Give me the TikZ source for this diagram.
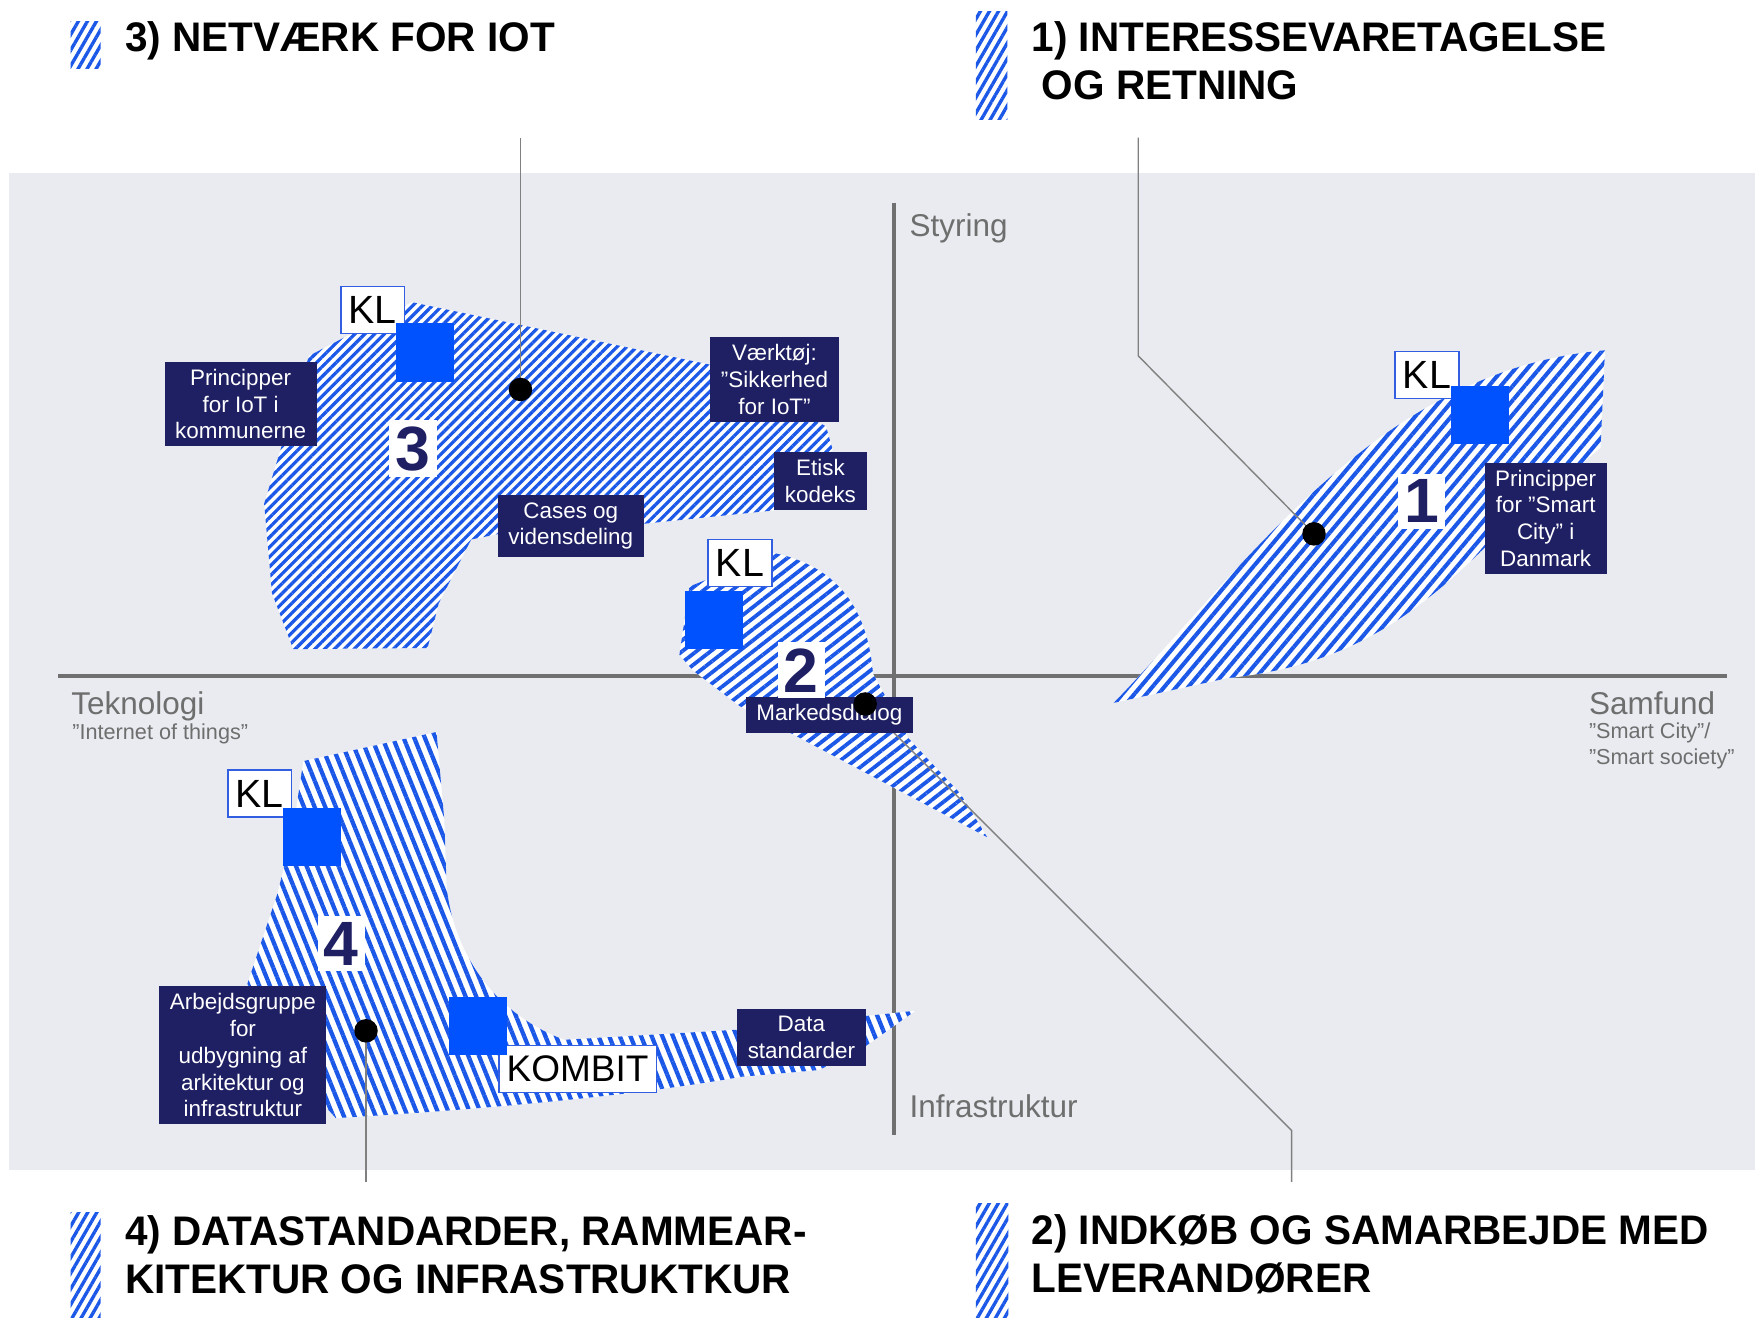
\documentclass[tikz,border=0pt]{standalone}
\usepackage{fontspec}
\setmainfont{Liberation Sans}
\newfontfamily\headfont[FakeStretch=0.98]{Liberation Sans}
\usetikzlibrary{patterns.meta}
\definecolor{navy}{RGB}{31,31,99}
\definecolor{hatchblue}{RGB}{28,88,232}
\definecolor{sqblue}{RGB}{0,82,255}
\definecolor{panel}{RGB}{233,235,240}
\definecolor{axisgray}{RGB}{112,112,112}
\definecolor{labelgray}{RGB}{110,110,110}
\definecolor{leadgray}{RGB}{128,128,128}
\definecolor{klborder}{RGB}{50,95,225}
\begin{document}
\begin{tikzpicture}[x={(0.01cm,0)}, y={(0,-0.01cm)},
  navybox/.style={fill=navy, text=white, align=center, inner xsep=0.095cm, inner ysep=0.065cm, font=\fontsize{5.7}{6.8}\selectfont},
  orgbox/.style={draw=klborder, line width=0.4pt, fill=white, inner xsep=0.07cm, inner ysep=0pt, minimum height=0.42cm, font=\fontsize{10}{12}\selectfont},
  bluesq/.style={fill=sqblue, minimum size=0.52cm, inner sep=0pt},
  blackdot/.style={circle, fill=black, minimum size=0.21cm, inner sep=0pt},
  numbox/.style={fill=white, text=navy, inner sep=0.055cm, font=\fontsize{15.9}{18}\selectfont\bfseries},
  axislabel/.style={text=labelgray, anchor=base west, inner sep=0pt, font=\fontsize{8}{9}\selectfont},
  sublabel/.style={text=labelgray, anchor=base west, inner sep=0pt, align=left, font=\fontsize{5.5}{6.5}\selectfont},
  headline/.style={anchor=base west, inner sep=0pt, align=left, font=\headfont\bfseries\fontsize{10.5}{12.2}\selectfont},
  leader/.style={leadgray, line width=0.35pt},
  zone/.style={preaction={fill=white}, pattern color=hatchblue},
  axis/.style={axisgray, line width=1pt}
]
\useasboundingbox (0,0) rectangle (1568,1177);
\fill[white] (0,0) rectangle (1568,1177);
\fill[panel] (8,155) rectangle (1568,1045);

\coordinate (axw) at (52,604);
\coordinate (axe) at (1543,604);
\coordinate (axn) at (799,181);
\coordinate (axs) at (799,1014);
\draw[axis] (axw) -- (axe);
\draw[axis] (axn) -- (axs);

\path[zone, pattern={Lines[angle=45,distance=0.062cm,line width=0.029cm]}]
  (276,318) -- (368,270) -- (640,327) -- (738,381) -- (744,402) -- (692,456) -- (575,468)
  -- (446,477) -- (421,482) -- (392,539) -- (382,579) -- (262,580) -- (243,530) -- (236,450) -- cycle;
\path[zone, pattern={Lines[angle=50,distance=0.082cm,line width=0.036cm]}]
  (995,628) .. controls (1110,510) and (1230,330) .. (1434,313) -- (1430,400) -- (1330,486)
  .. controls (1260,555) and (1200,595) .. (1096,606) -- cycle;
\path[zone, pattern={Lines[angle=38,distance=0.078cm,line width=0.034cm]}]
  (616,524) -- (691,494) .. controls (745,505) and (775,540) .. (780,602) -- (812,660) -- (858,709)
  -- (882,748) -- (661,631) -- (619,599) -- (607,585) -- cycle;
\path[zone, pattern={Lines[angle=112,distance=0.088cm,line width=0.038cm]}]
  (271,680) -- (390,654) -- (397,733) -- (399,792) .. controls (405,850) and (440,905) .. (504,929)
  -- (659,920) -- (818,903) -- (773,935) -- (732,956) -- (663,962)
  .. controls (560,980) and (420,992) .. (300,999) -- (265,960) -- (221,879) -- (248,798) -- (262,740) -- cycle;

\path[zone, pattern={Lines[angle=60,distance=0.07cm,line width=0.03cm]}] (63,19) rectangle (90,61);
\path[zone, pattern={Lines[angle=60,distance=0.07cm,line width=0.03cm]}] (872,10) rectangle (900,107);
\path[zone, pattern={Lines[angle=60,distance=0.07cm,line width=0.03cm]}] (63,1083) rectangle (90,1177);
\path[zone, pattern={Lines[angle=60,distance=0.07cm,line width=0.03cm]}] (872,1075) rectangle (901,1177);

\node[headline] (t3) at (111,46) {3) NETVÆRK FOR IOT};
\node[headline] (t1) at (921,89) {1) INTERESSEVARETAGELSE\\\hspace*{0.25em}OG RETNING};
\node[headline] (t4) at (111,1156) {4) DATASTANDARDER, RAMMEAR-\\KITEKTUR OG INFRASTRUKTKUR};
\node[headline] (t2) at (921,1155) {2) INDKØB OG SAMARBEJDE MED\\LEVERANDØRER};

\node[axislabel] (styr) at (812,211) {Styring};
\node[axislabel] (infra) at (812,998) {Infrastruktur};
\node[axislabel] (tek) at (63,638) {Teknologi};
\node[sublabel] (iot) at (64,661) {”Internet of things”};
\node[axislabel] (samf) at (1419,638) {Samfund};
\node[sublabel] (smart) at (1419,683) {”Smart City”/\\”Smart society”};

\coordinate (c3) at (465,348);
\coordinate (c1) at (1174,477);
\coordinate (c2) at (773,629);
\coordinate (c4) at (327,921);
\coordinate (top3) at (465,123);
\coordinate (top1) at (1017,123);
\coordinate (bend1) at (1017,318);
\coordinate (bot4) at (327,1056);
\coordinate (bot2) at (1154,1056);
\coordinate (bend2) at (1154,1010);
\draw[leader] (top3) -- (c3);
\draw[leader] (top1) -- (bend1) -- (c1);
\draw[leader] (bot4) -- (c4);
\draw[leader] (bot2) -- (bend2) -- (c2);

\node[navybox] (pr3) at (215,361) {Principper\\for IoT i\\kommunerne};
\node[navybox] (vt3) at (692,339) {Værktøj:\\”Sikkerhed\\for IoT”};
\node[navybox] (et3) at (733,430) {Etisk\\kodeks};
\node[navybox] (cs3) at (510,470) {Cases og\\vidensdeling};
\node[navybox] (md2) at (741,639) {Markedsdialog};
\node[navybox] (pr1) at (1381,463) {Principper\\for ”Smart\\City” i\\Danmark};
\node[navybox] (ag4) at (217,943) {Arbejdsgruppe\\for\\udbygning af\\arkitektur og\\infrastruktur};
\node[navybox] (ds4) at (716,927) {Data\\standarder};

\node[orgbox] (kl3) at (333,277) {KL};
\node[orgbox] (kl2) at (661,503) {KL};
\node[orgbox] (kl1) at (1275,335) {KL};
\node[orgbox] (kl4) at (232,709) {KL};
\node[orgbox, font=\fontsize{9.4}{11}\selectfont] (kombit) at (516,955) {KOMBIT};

\node[bluesq] (sq3) at (380,315) {};
\node[bluesq] (sq2) at (638,554) {};
\node[bluesq] (sq1) at (1322,371) {};
\node[bluesq] (sq4) at (279,748) {};
\node[bluesq] (sq5) at (427,917) {};

\node[numbox] (n3) at (369,401) {3};
\node[numbox] (n1) at (1270,448) {1};
\node[numbox] (n2) at (716,599) {2};
\node[numbox] (n4) at (305,843) {4};

\node[blackdot] (dot3) at (c3) {};
\node[blackdot] (dot1) at (c1) {};
\node[blackdot] (dot2) at (c2) {};
\node[blackdot] (dot4) at (c4) {};
\end{tikzpicture}
\end{document}
